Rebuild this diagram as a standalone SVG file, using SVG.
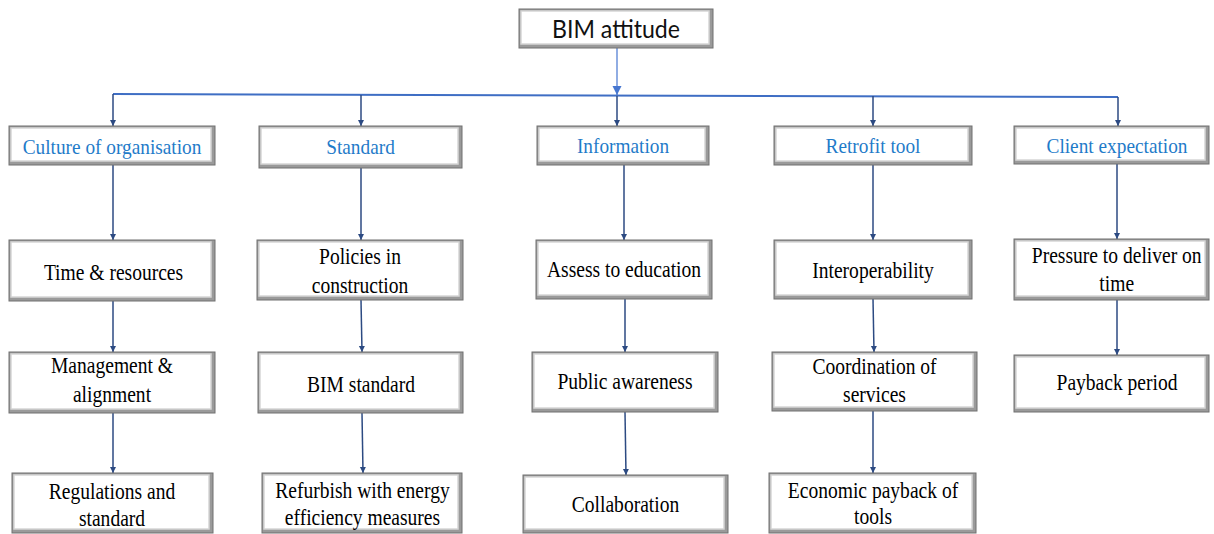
<svg xmlns="http://www.w3.org/2000/svg" width="1214" height="534" viewBox="0 0 1214 534">
<style>
.bx{fill:#9a9a9a;stroke:#707070;stroke-width:1}
.in{fill:#ffffff;stroke:#d6d6d6;stroke-width:1.5}
.t{font-family:'Liberation Serif','Times New Roman',serif;font-size:23px;fill:#000;text-anchor:middle}
.h{font-family:'Liberation Serif','Times New Roman',serif;font-size:21px;fill:#1f7bc9;text-anchor:middle}
.top{font-family:Lato,'Liberation Sans',sans-serif;font-size:25px;fill:#111;text-anchor:middle}
.c{fill:none;stroke:#2c4a82;stroke-width:1.5}
.cl{fill:none;stroke:#4676d0;stroke-width:1.2}
.hz{fill:none;stroke:#3f6ec4;stroke-width:2}
</style>
<defs>
<marker id="a" markerUnits="userSpaceOnUse" markerWidth="8" markerHeight="8" refX="6" refY="3" orient="auto">
<path d="M0,0 L6,3 L0,6 z" fill="#2c4a82"/>
</marker>
<marker id="al" markerUnits="userSpaceOnUse" markerWidth="12" markerHeight="12" refX="9" refY="4.5" orient="auto">
<path d="M0,0 L9,4.5 L0,9 z" fill="#4676d0"/>
</marker>
</defs>
<g id="connectors">
<line class="cl" x1="617" y1="48" x2="617" y2="95" marker-end="url(#al)"/>
<path class="hz" d="M113,94 L1118,97"/>
<line class="c" x1="113" y1="94" x2="113" y2="126" marker-end="url(#a)"/>
<line class="c" x1="361" y1="95" x2="361" y2="126" marker-end="url(#a)"/>
<line class="c" x1="617" y1="96" x2="617" y2="126" marker-end="url(#a)"/>
<line class="c" x1="873" y1="96" x2="873" y2="126" marker-end="url(#a)"/>
<line class="c" x1="1118" y1="97" x2="1118" y2="126" marker-end="url(#a)"/>
<line class="c" x1="113" y1="165" x2="113" y2="240" marker-end="url(#a)"/>
<line class="c" x1="113" y1="301" x2="113" y2="352" marker-end="url(#a)"/>
<line class="c" x1="113" y1="413" x2="113" y2="473" marker-end="url(#a)"/>
<line class="c" x1="361" y1="168" x2="361" y2="240" marker-end="url(#a)"/>
<line class="c" x1="361" y1="300" x2="362" y2="352" marker-end="url(#a)"/>
<line class="c" x1="362" y1="413" x2="363" y2="473" marker-end="url(#a)"/>
<line class="c" x1="624" y1="165" x2="624" y2="240" marker-end="url(#a)"/>
<line class="c" x1="625" y1="299" x2="625" y2="352" marker-end="url(#a)"/>
<line class="c" x1="625" y1="412" x2="626" y2="475" marker-end="url(#a)"/>
<line class="c" x1="873" y1="165" x2="873" y2="240" marker-end="url(#a)"/>
<line class="c" x1="873" y1="299" x2="874" y2="352" marker-end="url(#a)"/>
<line class="c" x1="873" y1="411" x2="873" y2="473" marker-end="url(#a)"/>
<line class="c" x1="1117" y1="164" x2="1117" y2="239" marker-end="url(#a)"/>
<line class="c" x1="1117" y1="300" x2="1117" y2="355" marker-end="url(#a)"/>
</g>
<g id="bim">
<rect class="bx" x="519" y="9" width="194" height="39"/><rect class="in" x="521" y="11" width="188" height="33"/>
<text class="top" x="616" y="38" textLength="128" lengthAdjust="spacingAndGlyphs">BIM attitude</text>
</g>
<g id="culture">
<rect class="bx" x="9" y="126" width="206" height="39"/><rect class="in" x="11" y="128" width="200" height="33"/>
<text class="h" transform="translate(112,154) scale(0.92,1)">Culture of organisation</text>
</g>
<g id="standard">
<rect class="bx" x="259" y="126" width="203" height="42"/><rect class="in" x="261" y="128" width="197" height="36"/>
<text class="h" transform="translate(360.5,154) scale(0.92,1)">Standard</text>
</g>
<g id="information">
<rect class="bx" x="537" y="126" width="172" height="39"/><rect class="in" x="539" y="128" width="166" height="33"/>
<text class="h" transform="translate(623,153) scale(0.92,1)">Information</text>
</g>
<g id="retrofit">
<rect class="bx" x="774" y="126" width="198" height="39"/><rect class="in" x="776" y="128" width="192" height="33"/>
<text class="h" transform="translate(873,153) scale(0.92,1)">Retrofit tool</text>
</g>
<g id="client">
<rect class="bx" x="1014" y="126" width="195" height="38"/><rect class="in" x="1016" y="128" width="189" height="32"/>
<text class="h" transform="translate(1117,153) scale(0.92,1)">Client expectation</text>
</g>
<g id="time">
<rect class="bx" x="9" y="240" width="206" height="61"/><rect class="in" x="11" y="242" width="200" height="55"/>
<text class="t" transform="translate(113.5,280) scale(0.85,1)">Time &amp; resources</text>
</g>
<g id="management">
<rect class="bx" x="9" y="352" width="206" height="61"/><rect class="in" x="11" y="354" width="200" height="55"/>
<text class="t" transform="translate(112,373) scale(0.85,1)">Management &amp;</text>
<text class="t" transform="translate(112,402) scale(0.85,1)">alignment</text>
</g>
<g id="regulations">
<rect class="bx" x="12" y="473" width="201" height="60"/><rect class="in" x="14" y="475" width="195" height="54"/>
<text class="t" transform="translate(112,499) scale(0.85,1)">Regulations and</text>
<text class="t" transform="translate(112,526) scale(0.85,1)">standard</text>
</g>
<g id="policies">
<rect class="bx" x="257" y="240" width="206" height="60"/><rect class="in" x="259" y="242" width="200" height="54"/>
<text class="t" transform="translate(360,264) scale(0.85,1)">Policies in</text>
<text class="t" transform="translate(360,293) scale(0.85,1)">construction</text>
</g>
<g id="bimstandard">
<rect class="bx" x="258" y="352" width="205" height="61"/><rect class="in" x="260" y="354" width="199" height="55"/>
<text class="t" transform="translate(361,392) scale(0.85,1)">BIM standard</text>
</g>
<g id="refurbish">
<rect class="bx" x="262" y="473" width="200" height="60"/><rect class="in" x="264" y="475" width="194" height="54"/>
<text class="t" transform="translate(362.5,498) scale(0.85,1)">Refurbish with energy</text>
<text class="t" transform="translate(362.5,525) scale(0.85,1)">efficiency measures</text>
</g>
<g id="assess">
<rect class="bx" x="536" y="240" width="176" height="59"/><rect class="in" x="538" y="242" width="170" height="53"/>
<text class="t" transform="translate(624,277) scale(0.85,1)">Assess to education</text>
</g>
<g id="public">
<rect class="bx" x="532" y="352" width="186" height="60"/><rect class="in" x="534" y="354" width="180" height="54"/>
<text class="t" transform="translate(625,389) scale(0.85,1)">Public awareness</text>
</g>
<g id="collaboration">
<rect class="bx" x="523" y="475" width="205" height="58"/><rect class="in" x="525" y="477" width="199" height="52"/>
<text class="t" transform="translate(625.5,512) scale(0.85,1)">Collaboration</text>
</g>
<g id="interoperability">
<rect class="bx" x="774" y="240" width="198" height="59"/><rect class="in" x="776" y="242" width="192" height="53"/>
<text class="t" transform="translate(873,278) scale(0.85,1)">Interoperability</text>
</g>
<g id="coordination">
<rect class="bx" x="772" y="352" width="205" height="59"/><rect class="in" x="774" y="354" width="199" height="53"/>
<text class="t" transform="translate(874.5,374) scale(0.85,1)">Coordination of</text>
<text class="t" transform="translate(874.5,402) scale(0.85,1)">services</text>
</g>
<g id="economic">
<rect class="bx" x="769" y="473" width="207" height="60"/><rect class="in" x="771" y="475" width="201" height="54"/>
<text class="t" transform="translate(873,498) scale(0.85,1)">Economic payback of</text>
<text class="t" transform="translate(873,524) scale(0.85,1)">tools</text>
</g>
<g id="pressure">
<rect class="bx" x="1014" y="239" width="195" height="61"/><rect class="in" x="1016" y="241" width="189" height="55"/>
<text class="t" transform="translate(1116.7,263) scale(0.85,1)">Pressure to deliver on</text>
<text class="t" transform="translate(1116.7,291) scale(0.85,1)">time</text>
</g>
<g id="payback">
<rect class="bx" x="1014" y="355" width="195" height="57"/><rect class="in" x="1016" y="357" width="189" height="51"/>
<text class="t" transform="translate(1117,390) scale(0.85,1)">Payback period</text>
</g>
</svg>
